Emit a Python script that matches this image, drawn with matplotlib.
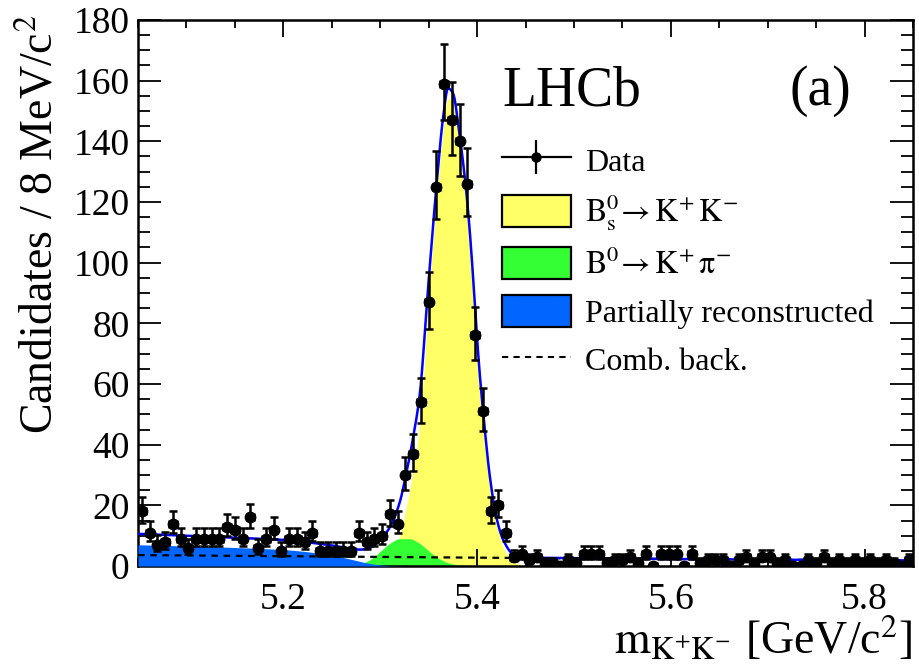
import numpy as np
import matplotlib
matplotlib.use("Agg")
import matplotlib.pyplot as plt
from matplotlib.ticker import MultipleLocator, FixedLocator
from matplotlib.lines import Line2D
from matplotlib.patches import Patch

plt.rcParams['font.family'] = ['Liberation Serif', 'DejaVu Serif']
plt.rcParams['mathtext.fontset'] = 'stix'

# ---------------- data ----------------
x_min, x_max, n_bins = 5.05, 5.85, 100
counts = [18, 11, 7, 8, 14, 9, 6, 9, 9, 9, 9, 13, 12, 9, 16, 6, 9, 12, 5, 9,
          9, 8, 11, 5, 5, 5, 5, 5, 11, 8, 9, 10, 17, 14, 30, 37, 54, 87, 125, 159,
          147, 140, 126, 76, 51, 18, 20, 11,
          3, 4, 2, 3, 1, 1, 0, 2, 1, 4, 4, 4, 1, 2, 2, 3, 1, 4, 0, 4,
          4, 4, 0, 4, 1, 2, 2, 2, 0, 2, 3, 1, 3, 3, 1, 2, 0, 0, 2, 1,
          3, 1, 2, 1, 2, 1, 2, 1, 2, 1, 0, 2]

# fit curves at knots (mass in GeV/c^2, candidates)
total_m = [5.05, 5.10, 5.15, 5.20, 5.25, 5.28, 5.29, 5.30, 5.31, 5.32, 5.327, 5.333,
           5.341, 5.349, 5.358, 5.365, 5.370, 5.375, 5.382, 5.389, 5.394, 5.3985,
           5.4026, 5.4077, 5.413, 5.42, 5.427, 5.437, 5.45, 5.50, 5.65, 5.85]
total_v = [10.6, 10.0, 9.3, 8.6, 6.8, 5.4, 6.1, 8.6, 12.8, 20.8, 30.7, 40.6,
           57.0, 90.0, 125.0, 148.0, 157.5, 156.0, 142.0, 123.0, 104.0, 82.0,
           64.0, 46.0, 30.0, 16.0, 8.6, 4.0, 2.8, 2.6, 2.2, 1.8]

bs_m = [5.30, 5.31, 5.32, 5.327, 5.333, 5.341, 5.349, 5.358, 5.365, 5.370, 5.375,
        5.382, 5.389, 5.394, 5.3985, 5.4026, 5.4077, 5.413, 5.42, 5.427, 5.437, 5.45]
bs_v = [0.0, 2.5, 9.5, 19.5, 29.5, 47.0, 83.0, 120.0, 143.5, 154.0, 153.0,
        139.5, 120.5, 101.5, 79.5, 61.5, 43.5, 27.5, 13.5, 6.2, 1.4, 0.0]

b0_m = [5.26, 5.28, 5.29, 5.30, 5.31, 5.32, 5.33, 5.34, 5.35, 5.36, 5.37, 5.38, 5.40]
b0_v = [0.0, 0.8, 2.2, 4.8, 7.5, 9.0, 9.0, 7.6, 5.0, 2.6, 1.1, 0.4, 0.0]

part_m = [5.05, 5.10, 5.15, 5.20, 5.25, 5.27, 5.29, 5.31, 5.33, 5.35]
part_v = [7.0, 6.6, 6.1, 5.4, 3.6, 2.2, 0.8, 0.1, 0.0, 0.0]

comb_m = [5.05, 5.45, 5.85]
comb_v = [3.6, 2.6, 1.8]

legend_labels = ["Data", r"$\mathrm{B_s^0\!\rightarrow K^{+}\,K^{-}}$",
                 r"$\mathrm{B^0\!\rightarrow K^{+}\,\pi^{-}}$",
                 "Partially reconstructed", "Comb. back."]

# ---------------- helpers ----------------
def pchip(xk, yk, x):
    xk = np.asarray(xk, float); yk = np.asarray(yk, float)
    h = np.diff(xk); delta = np.diff(yk) / h
    d = np.zeros_like(yk)
    for k in range(1, len(xk) - 1):
        if delta[k - 1] * delta[k] > 0:
            w1 = 2 * h[k] + h[k - 1]; w2 = h[k] + 2 * h[k - 1]
            d[k] = (w1 + w2) / (w1 / delta[k - 1] + w2 / delta[k])
    d[0] = delta[0]; d[-1] = delta[-1]
    x = np.asarray(x, float)
    i = np.clip(np.searchsorted(xk, x) - 1, 0, len(xk) - 2)
    t = (x - xk[i]) / h[i]
    h00 = 2 * t**3 - 3 * t**2 + 1; h10 = t**3 - 2 * t**2 + t
    h01 = -2 * t**3 + 3 * t**2; h11 = t**3 - t**2
    y = h00 * yk[i] + h10 * h[i] * d[i] + h01 * yk[i + 1] + h11 * h[i] * d[i + 1]
    y = np.where((x < xk[0]) | (x > xk[-1]), 0.0, y)
    return np.clip(y, 0, None)

# ---------------- figure ----------------
fig = plt.figure(figsize=(9.2, 6.72), dpi=100)
ax = fig.add_axes([138 / 920, 1 - 566 / 672, 775 / 920, 546 / 672])

col_yellow = '#ffff66'
col_green = '#33ff33'
col_blue = '#0066ff'

xs_bs = np.linspace(bs_m[0], bs_m[-1], 600)
xs_b0 = np.linspace(b0_m[0], b0_m[-1], 300)
xs_part = np.linspace(part_m[0], part_m[-1], 300)
xs_tot = np.linspace(total_m[0], total_m[-1], 2000)
xs_comb = np.linspace(comb_m[0], comb_m[-1], 200)

ax.fill_between(xs_bs, 0, pchip(bs_m, bs_v, xs_bs), color=col_yellow, lw=0, zorder=1)
ax.fill_between(xs_b0, 0, pchip(b0_m, b0_v, xs_b0), color=col_green, lw=0, zorder=2)
ax.fill_between(xs_part, 0, pchip(part_m, part_v, xs_part), color=col_blue, lw=0, zorder=3)
ax.plot(xs_comb, np.interp(xs_comb, comb_m, comb_v), color='k', ls=(0, (3, 2.5)), lw=1.6, zorder=4)
ax.plot(xs_tot, pchip(total_m, total_v, xs_tot), color='#0000ff', lw=1.8, zorder=5)

bw = (x_max - x_min) / n_bins
centers = x_min + bw * (np.arange(n_bins) + 0.5)
N = np.asarray(counts, float)
err_lo = np.sqrt(N + 0.25) - 0.5
err_hi = np.sqrt(N + 0.25) + 0.5
ax.errorbar(centers, N, yerr=[err_lo, err_hi], xerr=bw / 2, fmt='o', color='k',
            ms=7.5, elinewidth=1.8, capsize=3, capthick=1.8, zorder=6)

ax.set_xlim(x_min, x_max)
ax.set_ylim(0, 180)
ax.xaxis.set_major_locator(FixedLocator([5.2, 5.4, 5.6, 5.8]))
ax.xaxis.set_minor_locator(MultipleLocator(0.05))
ax.yaxis.set_major_locator(MultipleLocator(20))
ax.yaxis.set_minor_locator(MultipleLocator(5))
ax.set_xticklabels(["5.2", "5.4", "5.6", "5.8"])
ax.tick_params(which='both', direction='in', top=True, right=True, width=1.3, labelsize=27)
ax.tick_params(axis='x', which='major', length=12, pad=12)
ax.tick_params(axis='x', which='minor', length=6)
ax.tick_params(axis='y', which='major', length=16.5, pad=6)
ax.tick_params(axis='y', which='minor', length=8.5)
for s in ax.spines.values():
    s.set_linewidth(1.8)

ax.set_xlabel(r"$\mathrm{m_{K^{+}K^{-}}}$ [GeV/c$^{2}$]", fontsize=33, loc='right')
ax.xaxis.set_label_coords(1.0, -0.09)
ax.set_ylabel("Candidates / 8 MeV/c$^{2}$", fontsize=33, loc='top')
ax.yaxis.set_label_coords(-0.098, 1.01)

ax.text(0.470, 0.844, "LHCb", fontsize=40, transform=ax.transAxes, ha='left', va='baseline')
ax.text(0.841, 0.844, "(a)", fontsize=40, transform=ax.transAxes, ha='left', va='baseline')

h_data = (Line2D([], [], color='k', lw=1.6),
          Line2D([], [], color='k', marker='|', ms=24, mew=1.6, ls=''),
          Line2D([], [], color='k', marker='o', ms=6.5, ls=''))
h_bs = Patch(facecolor=col_yellow, edgecolor='k', lw=1.6)
h_b0 = Patch(facecolor=col_green, edgecolor='k', lw=1.6)
h_pr = Patch(facecolor=col_blue, edgecolor='k', lw=1.6)
h_cb = Line2D([], [], color='k', ls=(0, (3, 2.5)), lw=1.5)
ax.legend([h_data, h_bs, h_b0, h_pr, h_cb], legend_labels, loc='upper left',
          bbox_to_anchor=(0.4697, 0.773), frameon=False, fontsize=23,
          borderpad=0, borderaxespad=0, handlelength=2.15, handleheight=1.17,
          labelspacing=0.45, handletextpad=0.45)

fig.savefig("out.png", dpi=100)
